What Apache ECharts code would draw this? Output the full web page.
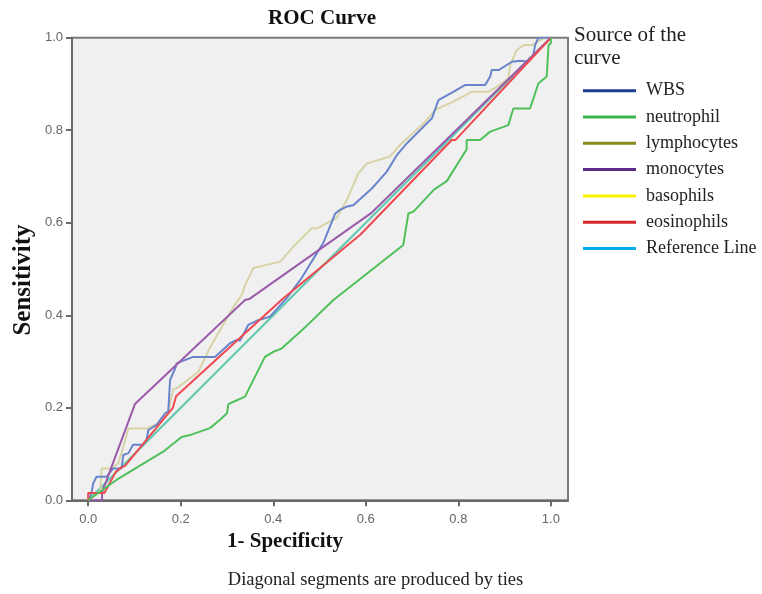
<!DOCTYPE html>
<html><head><meta charset="utf-8">
<script src="https://cdn.jsdelivr.net/npm/echarts@6/dist/echarts.min.js"></script>
<style>html,body{margin:0;padding:0;background:#fff}#c{width:762px;height:594px}</style>
</head><body><div id="c"></div>
<script>
const legendNames = ['WBS','neutrophil','lymphocytes','monocytes','basophils','eosinophils','Reference Line'];
const tickValues = [0, 0.2, 0.4, 0.6, 0.8, 1.0];

const wbs = [[0,0],[0.007,0.015],[0.011,0.037],[0.018,0.051],[0.04,0.051],[0.054,0.069],[0.072,0.069],[0.076,0.098],[0.087,0.102],[0.097,0.12],[0.119,0.12],[0.126,0.13],[0.13,0.152],[0.148,0.163],[0.166,0.188],[0.173,0.192],[0.177,0.26],[0.188,0.285],[0.191,0.296],[0.227,0.31],[0.274,0.31],[0.306,0.339],[0.321,0.347],[0.328,0.345],[0.346,0.379],[0.364,0.388],[0.393,0.397],[0.429,0.437],[0.461,0.48],[0.483,0.516],[0.508,0.556],[0.534,0.62],[0.544,0.628],[0.559,0.635],[0.573,0.638],[0.613,0.674],[0.645,0.71],[0.667,0.746],[0.689,0.772],[0.743,0.826],[0.757,0.865],[0.789,0.883],[0.815,0.898],[0.858,0.898],[0.869,0.916],[0.872,0.93],[0.887,0.93],[0.916,0.948],[0.934,0.95],[0.952,0.948],[0.962,0.963],[0.966,0.984],[0.973,1.0],[1,1]];

const neutrophil = [[0,0],[0.061,0.044],[0.162,0.105],[0.202,0.137],[0.22,0.141],[0.263,0.156],[0.285,0.174],[0.3,0.188],[0.303,0.208],[0.314,0.213],[0.339,0.224],[0.382,0.31],[0.4,0.321],[0.418,0.328],[0.472,0.377],[0.53,0.433],[0.681,0.552],[0.692,0.62],[0.703,0.624],[0.748,0.672],[0.775,0.69],[0.818,0.759],[0.818,0.779],[0.847,0.779],[0.869,0.797],[0.908,0.811],[0.919,0.847],[0.955,0.847],[0.973,0.901],[0.991,0.916],[0.995,0.984],[1,0.988],[1,1]];

const lymphocytes = [[0,0],[0.026,0.019],[0.029,0.069],[0.051,0.069],[0.065,0.08],[0.072,0.102],[0.087,0.155],[0.126,0.155],[0.151,0.166],[0.173,0.19],[0.184,0.24],[0.191,0.242],[0.238,0.278],[0.263,0.33],[0.285,0.368],[0.314,0.418],[0.332,0.444],[0.339,0.465],[0.357,0.502],[0.415,0.516],[0.443,0.548],[0.483,0.588],[0.494,0.588],[0.537,0.61],[0.559,0.649],[0.584,0.707],[0.602,0.728],[0.652,0.743],[0.674,0.768],[0.725,0.815],[0.75,0.844],[0.789,0.862],[0.829,0.883],[0.865,0.883],[0.89,0.898],[0.908,0.912],[0.912,0.941],[0.926,0.973],[0.941,0.984],[0.959,0.984],[0.977,0.995],[0.991,1],[1,1]];

const monocytes = [[0,0],[0.03,0],[0.03,0.017],[0.101,0.208],[0.339,0.433],[0.348,0.435],[0.613,0.622],[1,1]];

const basophils = [[0,0],[1,1]];

const eosinophils = [[0,0],[0,0.016],[0.035,0.016],[0.06,0.062],[0.07,0.07],[0.08,0.075],[0.183,0.2],[0.19,0.225],[0.42,0.435],[0.588,0.574],[0.786,0.779],[0.794,0.779],[1,1]];

const referenceLine = [[0,0],[1,1]];

const lineColors = {
  'WBS':'#6a84cc','neutrophil':'#4fc05a','lymphocytes':'#d8d3a6','monocytes':'#9b5bab',
  'basophils':'#eee98a','eosinophils':'#ee4a50','Reference Line':'#5cc8bb'
};
const legendColors = {
  'WBS':'#1f3c8f','neutrophil':'#3cb44a','lymphocytes':'#898a1c','monocytes':'#5b2a86',
  'basophils':'#fff200','eosinophils':'#d9262c','Reference Line':'#00aeef'
};
const drawOrder = [
  ['basophils', basophils], ['Reference Line', referenceLine], ['lymphocytes', lymphocytes],
  ['WBS', wbs], ['monocytes', monocytes], ['eosinophils', eosinophils], ['neutrophil', neutrophil]
];

const serif = "'Times New Roman','Liberation Serif',serif";
const sans = "Arial,'Liberation Sans',sans-serif";

const chart = echarts.init(document.getElementById('c'), null, {renderer:'canvas'});
chart.setOption({
  animation: false,
  backgroundColor: '#ffffff',
  title: [
    {text:'ROC Curve', left: 322, top: 8, textAlign:'center', padding:0,
     textStyle:{fontFamily:serif, fontWeight:'bold', fontSize:21, lineHeight:21, color:'#111'}},
    {text:'Source of the\ncurve', left: 574, top: 23.5, padding:0,
     textStyle:{fontFamily:serif, fontWeight:'normal', fontSize:21, lineHeight:23, color:'#222'}}
  ],
  legend: {
    orient:'vertical', left: 583, top: 80.7, padding: 0,
    icon:'rect', itemWidth: 53, itemHeight: 3, itemGap: 6.3,
    itemStyle:{borderWidth:0},
    textStyle:{fontFamily:serif, fontSize:18, lineHeight:20, color:'#222', padding:[0,0,0,5]},
    data: legendNames.map(n => ({name:n, itemStyle:{color:legendColors[n], borderWidth:0}}))
  },
  grid: {left:72, right:194, top:37.7, bottom:93.7, show:true, backgroundColor:'#f0f0f0',
         borderColor:'#7a7a7a', borderWidth:2},
  xAxis: {
    type:'value', min:-0.035, max:1.037,
    axisLine:{show:true, lineStyle:{color:'#6a6a6a', width:2}},
    axisTick:{show:true, length:6, lineStyle:{color:'#6a6a6a', width:2}, customValues: tickValues},
    axisLabel:{customValues: tickValues, formatter: v => v.toFixed(1), margin:13,
               fontFamily:sans, fontSize:13, color:'#666'},
    splitLine:{show:false}
  },
  yAxis: {
    type:'value', min:0, max:1, interval:0.2,
    axisLine:{show:true, onZero:false, lineStyle:{color:'#6a6a6a', width:2}},
    axisTick:{show:true, length:6, lineStyle:{color:'#6a6a6a', width:2}},
    axisLabel:{formatter: v => v.toFixed(1), margin:9, fontFamily:sans, fontSize:13, color:'#666'},
    splitLine:{show:false}
  },
  graphic: [
    {type:'text', x:285, y:542, style:{text:'1- Specificity', font:"bold 21px " + serif,
      fill:'#111', textAlign:'center', textVerticalAlign:'middle'}},
    {type:'text', x:24, y:280, rotation:Math.PI/2, style:{text:'Sensitivity', font:"bold 25px " + serif,
      fill:'#111', textAlign:'center', textVerticalAlign:'middle'}},
    {type:'text', x:375.5, y:580, style:{text:'Diagonal segments are produced by ties',
      font:"18.5px " + serif, fill:'#222', textAlign:'center', textVerticalAlign:'middle'}}
  ],
  series: drawOrder.map(([name, data]) => ({
    name, type:'line', data, showSymbol:false, symbol:'none',
    lineStyle:{color: lineColors[name], width:2},
    itemStyle:{color: legendColors[name]},
    emphasis:{disabled:true}
  }))
});
</script>
</body></html>
